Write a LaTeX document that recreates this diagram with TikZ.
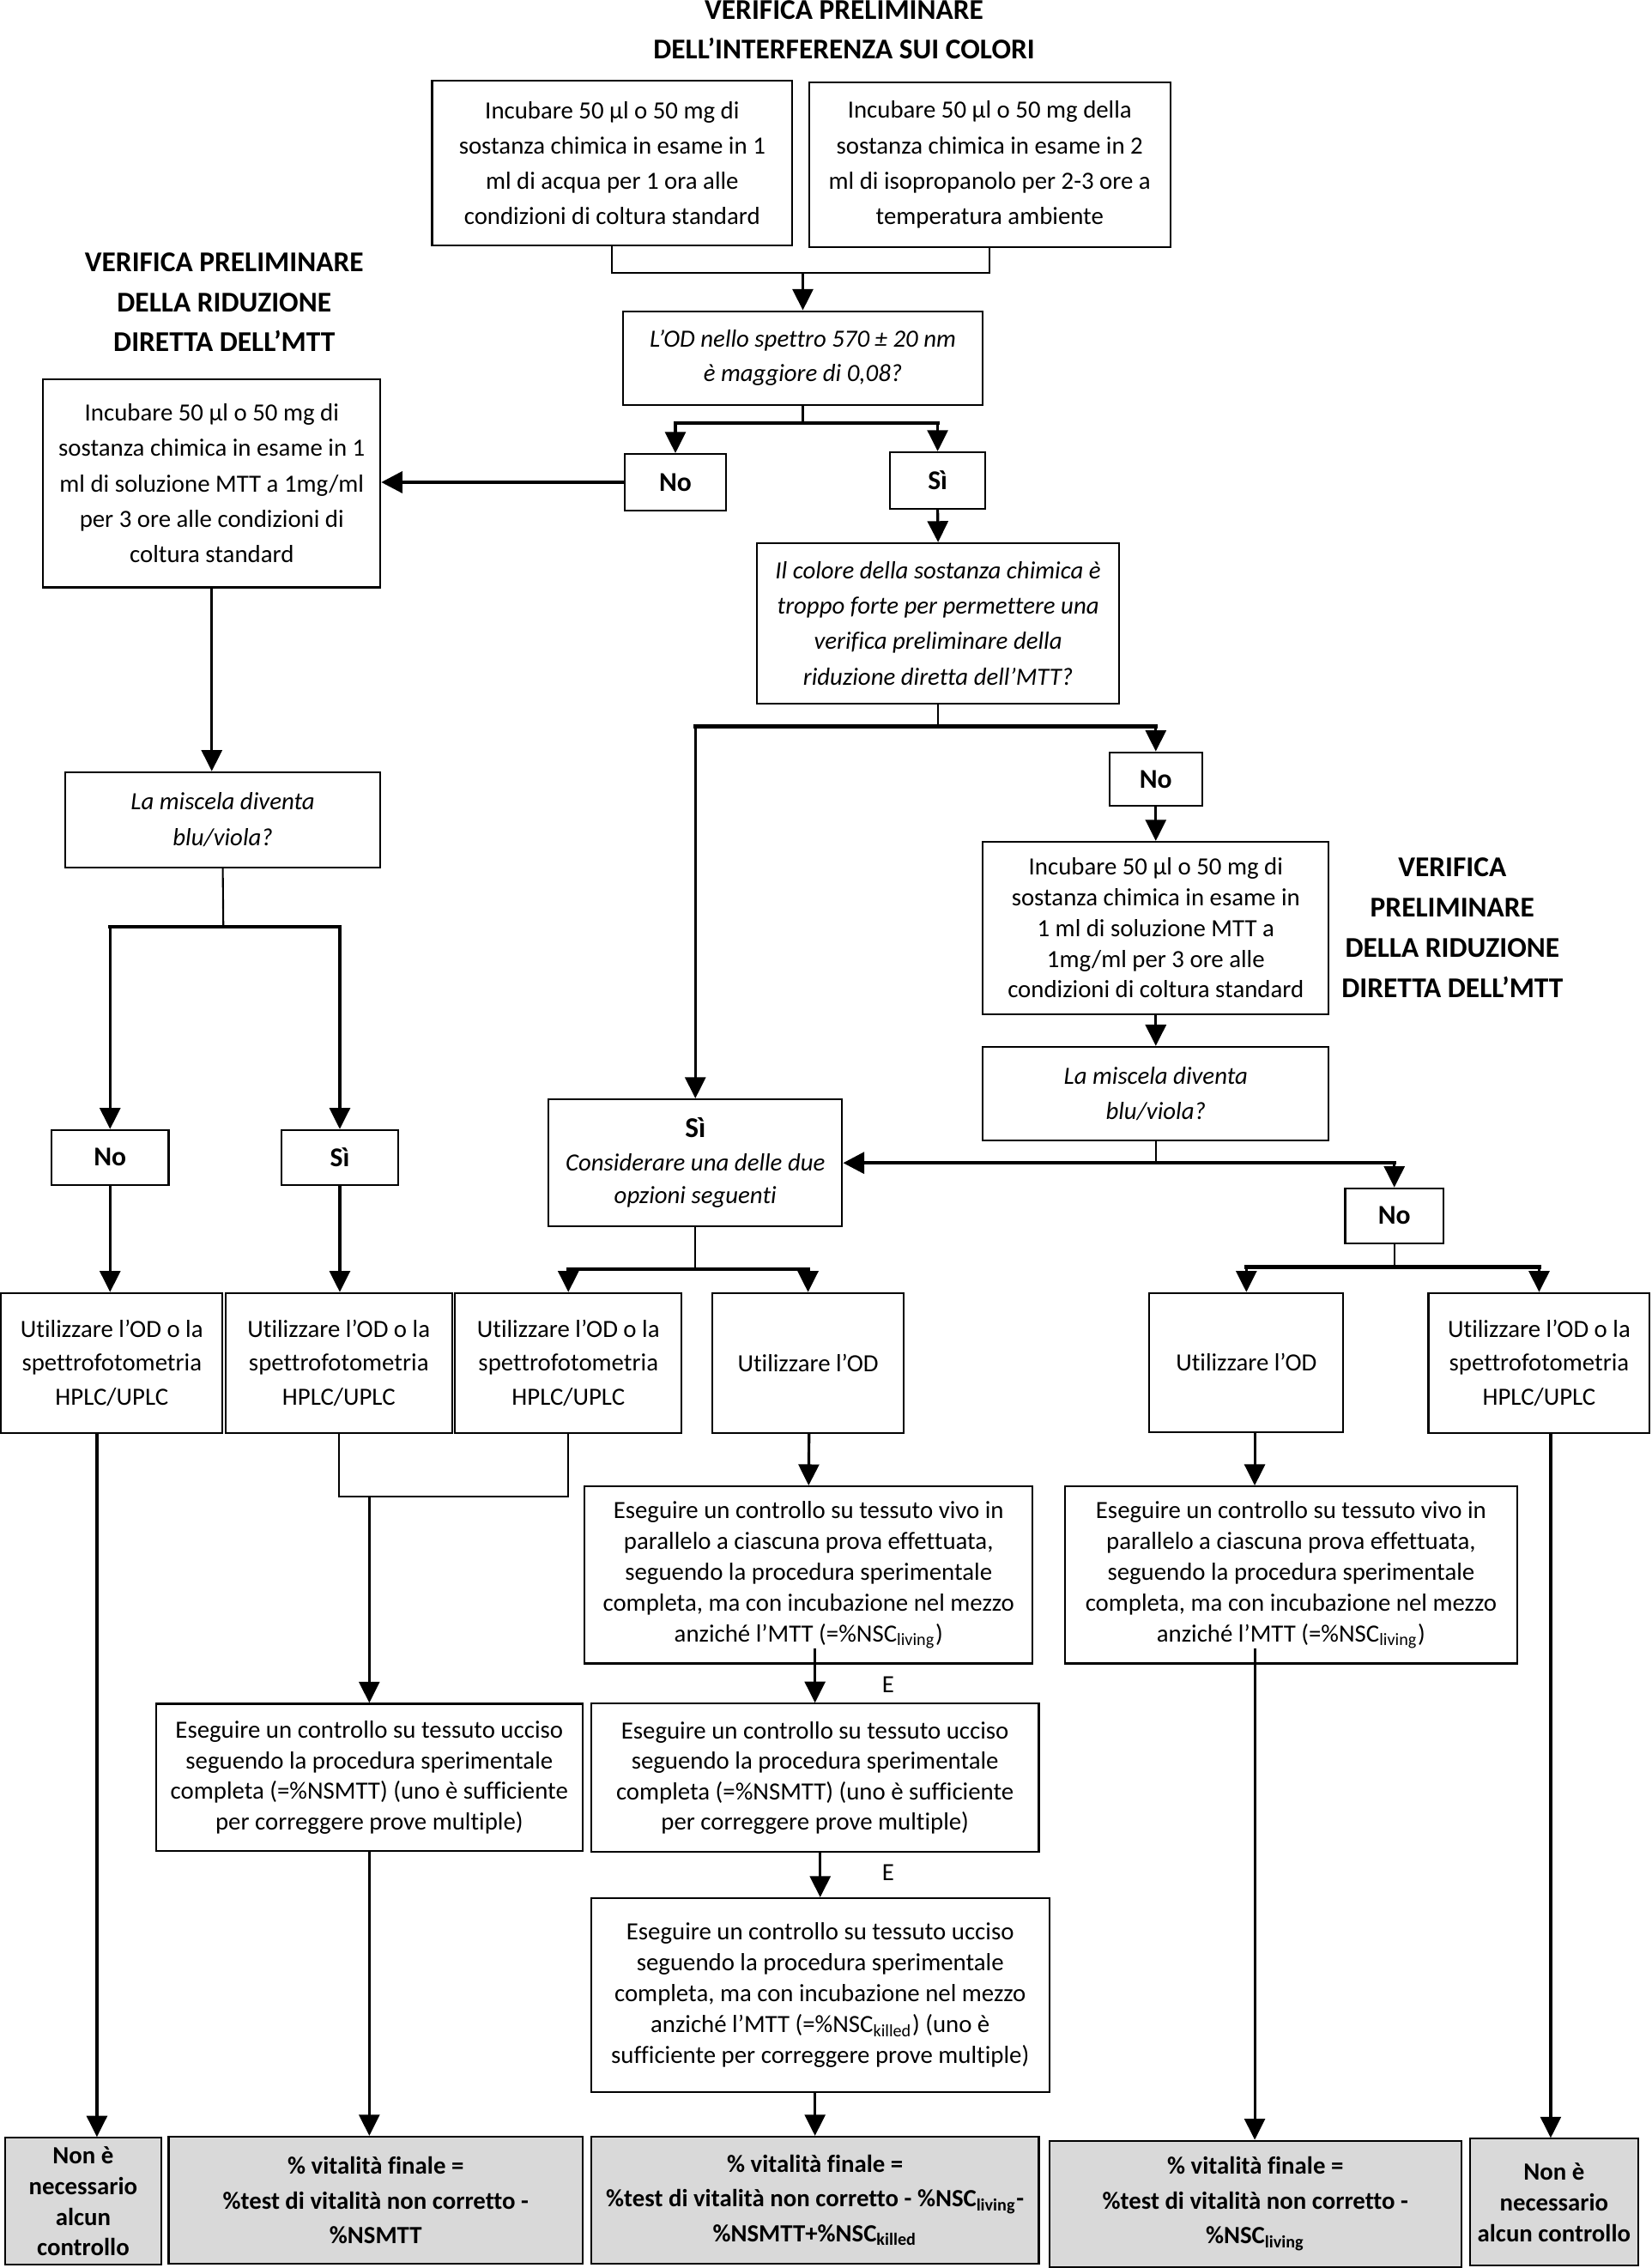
\documentclass[tikz,border=0pt]{standalone}
\usepackage{fontspec}
\setmainfont{Carlito}[Ligatures=NoCommon]
\usetikzlibrary{arrows.meta}

\newlength\un
\setlength\un{0.16856mm}

\tikzset{
  sz/.style 2 args={minimum width=#1*\un, minimum height=#2*\un},
  box/.style={draw, line width=0.6pt, align=center, inner sep=0pt,
    font=\fontsize{8.2}{#1}\selectfont},
  box/.default=11.7,
  qbox/.style={box=#1, font=\fontsize{8.2}{#1}\selectfont\itshape},
  qbox/.default=11.7,
  ans/.style={draw, line width=0.6pt, inner sep=0pt,
    font=\fontsize{9}{11}\selectfont\bfseries},
  res/.style={box=#1, fill=black!15, font=\fontsize{8.2}{#1}\selectfont\bfseries},
  res/.default=11.5,
  title/.style={align=center, inner sep=0pt,
    font=\fontsize{9.5}{13.3}\selectfont\bfseries},
  lbl/.style={inner sep=0pt, font=\fontsize{8.2}{10}\selectfont},
  link/.style={line width=0.6pt},
  bar/.style={line width=1.2pt, line cap=rect},
  arr/.style={line width=0.9pt, -{Triangle[length=7pt,width=6.8pt]}},
  bigarr/.style={line width=1.2pt, -{Triangle[length=7pt,width=7pt]}}
}

\begin{document}
\begin{tikzpicture}[x=\un, y=-\un]
\useasboundingbox (0,0) rectangle (1142,1568);

% Verifica preliminare dell'interferenza sui colori
\node[title] (t1) at (583.5,20.5) {VERIFICA PRELIMINARE\\DELL’INTERFERENZA SUI COLORI};
\node[box, sz={249}{114}] (a1) at (423.2,112.6) {Incubare 50 µl o 50 mg di\\sostanza chimica in esame in 1\\ml di acqua per 1 ora alle\\condizioni di coltura standard};
\node[box, sz={250}{114}] (a2) at (684.2,113.9) {Incubare 50 µl o 50 mg della\\sostanza chimica in esame in 2\\ml di isopropanolo per 2-3 ore a\\temperatura ambiente};
\node[qbox=11.4, sz={249}{65}] (q1) at (555,247.6) {L’OD nello spettro 570 ± 20 nm\\è maggiore di 0,08?};
\node[ans, sz={70}{39}] (no1) at (466.9,333.4) {No};
\node[ans, sz={66}{39}] (si1) at (648.2,332.1) {Sì};

\coordinate (j1) at (555,188.8);
\draw[link] (a1.south) |- (j1) -| (a2.south);
\draw[arr] (j1) -- (q1.north);
\coordinate (j2) at (555,292.6);
\draw[link] (q1.south) -- (j2);
\draw[bar] (no1.north |- j2) -- (si1.north |- j2);
\draw[arr] (no1.north |- j2) -- (no1.north);
\draw[arr] (si1.north |- j2) -- (si1.north);

% Verifica preliminare della riduzione diretta (sinistra)
\node[title] (t2) at (155,209) {VERIFICA PRELIMINARE\\DELLA RIDUZIONE\\DIRETTA DELL’MTT};
\node[box=11.75, sz={233}{144}] (b) at (146.4,334.1) {Incubare 50 µl o 50 mg di\\sostanza chimica in esame in 1\\ml di soluzione MTT a 1mg/ml\\per 3 ore alle condizioni di\\coltura standard};
\draw[bigarr] (no1.west) -- (no1.west -| b.east);

\node[qbox=12, sz={218}{66}] (q4) at (154,566.8) {La miscela diventa\\blu/viola?};
\draw[arr] (b.south) -- (b.south |- q4.north);
\node[ans, sz={81}{38}] (no4) at (76.1,800.2) {No};
\node[ans, sz={81}{38}] (si4) at (234.9,800.2) {Sì};
\coordinate (j7) at (154.4,640.5);
\draw[link] (q4.south) -- (j7);
\draw[bar] (no4.north |- j7) -- (si4.north |- j7);
\draw[arr] (no4.north |- j7) -- (no4.north);
\draw[arr] (si4.north |- j7) -- (si4.north);

% Colore troppo forte?
\node[qbox, sz={250}{111}] (q2) at (648.5,431) {Il colore della sostanza chimica è\\troppo forte per permettere una\\verifica preliminare della\\riduzione diretta dell’MTT?};
\draw[arr] (si1.south) -- (q2.north);
\node[ans, sz={64}{37}] (no2) at (799,538.6) {No};
\node[box=11, sz={203}{88}] (si2) at (480.7,804) {\fontsize{9.5}{11}\selectfont\textbf{Sì}\\\textit{Considerare una delle due}\\\textit{opzioni seguenti}};
\coordinate (j3) at (648.5,502.2);
\draw[link] (q2.south) -- (j3);
\draw[bar] (si2.north |- j3) -- (no2.north |- j3);
\draw[arr] (si2.north |- j3) -- (si2.north);
\draw[arr] (no2.north |- j3) -- (no2.north);

% Verifica preliminare della riduzione diretta (destra)
\node[title] (t3) at (1004,641.3) {VERIFICA\\PRELIMINARE\\DELLA RIDUZIONE\\DIRETTA DELL’MTT};
\node[box=10.2, sz={239}{119}] (c) at (799,641.5) {Incubare 50 µl o 50 mg di\\sostanza chimica in esame in\\1 ml di soluzione MTT a\\1mg/ml per 3 ore alle\\condizioni di coltura standard};
\node[qbox=11.6, sz={239}{65}] (q3) at (799,756.2) {La miscela diventa\\blu/viola?};
\node[ans, sz={68}{38}] (no3) at (963.9,840.5) {No};
\draw[arr] (no2.south) -- (c.north);
\draw[arr] (c.south) -- (q3.north);
\coordinate (j4) at (799,804);
\draw[link] (q3.south) -- (j4);
\draw[bigarr] (j4) -- (j4 -| si2.east);
\draw[bar] (j4) -- (j4 -| no3.north);
\draw[arr] (j4 -| no3.north) -- (no3.north);

% Riga dei metodi di misura
\node[box=11.3, sz={153}{96.6}] (d1) at (77.3,942.2) {Utilizzare l’OD o la\\spettrofotometria\\HPLC/UPLC};
\node[box=11.3, sz={156.5}{96.6}] (d2) at (234.2,942.2) {Utilizzare l’OD o la\\spettrofotometria\\HPLC/UPLC};
\node[box=11.3, sz={156.6}{96.6}] (d3) at (392.9,942.2) {Utilizzare l’OD o la\\spettrofotometria\\HPLC/UPLC};
\node[box=11.3, sz={132.6}{96.6}] (d4) at (558.6,942.2) {Utilizzare l’OD};
\node[box=11.3, sz={134}{96}] (d5) at (861.6,941.9) {Utilizzare l’OD};
\node[box=11.3, sz={153}{96.6}] (d6) at (1064,942.2) {Utilizzare l’OD o la\\spettrofotometria\\HPLC/UPLC};

\draw[arr] (no4.south) -- (no4.south |- d1.north);
\draw[arr] (si4.south) -- (si4.south |- d2.north);
\coordinate (j5) at (480.7,877.2);
\draw[link] (si2.south) -- (j5);
\draw[bar] (d3.north |- j5) -- (d4.north |- j5);
\draw[arr] (d3.north |- j5) -- (d3.north);
\draw[arr] (d4.north |- j5) -- (d4.north);
\coordinate (j6) at (963.9,876);
\draw[link] (no3.south) -- (j6);
\draw[bar] (d5.north |- j6) -- (d6.north |- j6);
\draw[arr] (d5.north |- j6) -- (d5.north);
\draw[arr] (d6.north |- j6) -- (d6.north);

% Controlli
\node[box=10.2, sz={309.5}{122.4}] (f1) at (559,1088.8) {Eseguire un controllo su tessuto vivo in\\parallelo a ciascuna prova effettuata,\\seguendo la procedura sperimentale\\completa, ma con incubazione nel mezzo\\anziché l’MTT (=\%NSC\textsubscript{living})};
\node[box=10.2, sz={312.5}{122.4}] (h1) at (892.5,1088.8) {Eseguire un controllo su tessuto vivo in\\parallelo a ciascuna prova effettuata,\\seguendo la procedura sperimentale\\completa, ma con incubazione nel mezzo\\anziché l’MTT (=\%NSC\textsubscript{living})};
\node[box=10.1, sz={295}{102}] (e1) at (255.3,1228.9) {Eseguire un controllo su tessuto ucciso\\seguendo la procedura sperimentale\\completa (=\%NSMTT) (uno è sufficiente\\per correggere prove multiple)};
\node[box=10.1, sz={309.5}{102.6}] (f2) at (563.4,1229.1) {Eseguire un controllo su tessuto ucciso\\seguendo la procedura sperimentale\\completa (=\%NSMTT) (uno è sufficiente\\per correggere prove multiple)};
\node[box=10.3, sz={316.8}{134}] (f3) at (567,1379.3) {Eseguire un controllo su tessuto ucciso\\seguendo la procedura sperimentale\\completa, ma con incubazione nel mezzo\\anziché l’MTT (=\%NSC\textsubscript{killed}) (uno è\\sufficiente per correggere prove multiple)};
\node[lbl] (and1) at (614,1164.5) {E};
\node[lbl] (and2) at (614,1294.5) {E};

\coordinate (j8) at (255.3,1034.8);
\draw[link] (d2.south) |- (j8) -| (d3.south);
\draw[arr] (j8) -- (e1.north);
\draw[arr] ([xshift=0.7*\un]d4.south) -- (f1.north);
\draw[arr] ([xshift=5.8*\un]d5.south) -- ([xshift=5.8*\un]d5.south |- h1.north);
\coordinate (f1s) at (563.4,1139.4);
\draw[arr] (f1s) -- (f2.north);
\draw[arr] (f3.north |- f2.south) -- (f3.north);

% Risultati finali
\node[res=10.2, sz={107.8}{87.8}] (g1) at (57.5,1521.9) {Non è\\necessario\\alcun\\controllo};
\node[res, sz={286.3}{88}] (g2) at (259.7,1521.2) {\% vitalità finale =\\\%test di vitalità non corretto -\\\%NSMTT};
\node[res, sz={309.5}{88}] (g3) at (563.4,1521.2) {\% vitalità finale =\\\%test di vitalità non corretto - \%NSC\textsubscript{living}-\\\%NSMTT+\%NSC\textsubscript{killed}};
\node[res, sz={284.8}{87.2}] (g4) at (867.8,1523.6) {\% vitalità finale =\\\%test di vitalità non corretto -\\\%NSC\textsubscript{living}};
\node[res=10.2, sz={116.5}{87.7}] (g5) at (1074.3,1522.5) {Non è\\necessario\\alcun controllo};

\draw[arr] ([xshift=-10.3*\un]d1.south) -- ([xshift=-10.3*\un]d1.south |- g1.north);
\draw[arr] (e1.south) -- (e1.south |- g2.north);
\draw[arr] (g3.north |- f3.south) -- (g3.north);
\coordinate (h1s) at (867.4,1139.4);
\draw[arr] (h1s) -- (h1s |- g4.north);
\draw[arr] ([xshift=8*\un]d6.south) -- ([xshift=8*\un]d6.south |- g5.north);

\end{tikzpicture}
\end{document}
